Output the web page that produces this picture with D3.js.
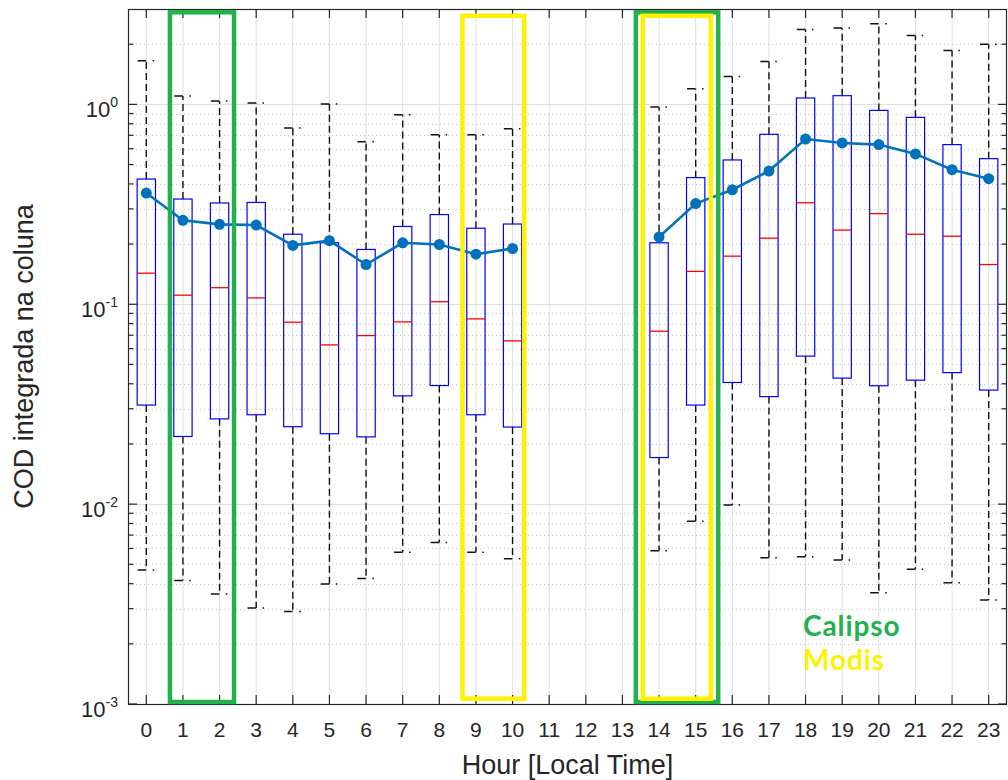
<!DOCTYPE html>
<html>
<head>
<meta charset="utf-8">
<script src="https://cdn.jsdelivr.net/npm/d3@7"></script>
<style>
  html, body { margin: 0; padding: 0; background: #fff; }
  svg { display: block; }
  text { font-family: "Liberation Sans", Arial, Helvetica, sans-serif; fill: #262626; }
</style>
</head>
<body>
<svg id="chart" width="1008" height="780"></svg>
<script>
// ---------------- DATA ----------------
const hours = d3.range(0, 24);
const hourLabels = hours.map(String);
// box upper quartile (q3)
const q3 = [0.423, 0.336, 0.321, 0.323, 0.224, 0.203, 0.188, 0.245, 0.281, 0.240, 0.252, null, null, null,
            0.203, 0.430, 0.527, 0.708, 1.076, 1.105, 0.933, 0.861, 0.629, 0.535];
// box lower quartile (q1)
const q1 = [0.0313, 0.0218, 0.0267, 0.0280, 0.0244, 0.0225, 0.0217, 0.0348, 0.0392, 0.0280, 0.0243, null, null, null,
            0.0171, 0.0313, 0.0406, 0.0345, 0.0550, 0.0427, 0.0391, 0.0417, 0.0455, 0.0372];
// medians
const medians = [0.143, 0.111, 0.121, 0.1076, 0.0813, 0.0626, 0.0697, 0.0816, 0.103, 0.0845, 0.0656, null, null, null,
                 0.0733, 0.146, 0.174, 0.214, 0.322, 0.235, 0.284, 0.224, 0.219, 0.158];
// upper whisker ends
const whiskerHigh = [1.654, 1.10, 1.039, 1.015, 0.762, 1.004, 0.650, 0.887, 0.705, 0.705, 0.756, null, null, null,
                     0.970, 1.198, 1.38, 1.64, 2.37, 2.41, 2.53, 2.21, 1.86, 2.00];
// lower whisker ends
const whiskerLow = [0.00468, 0.00415, 0.00355, 0.00302, 0.00290, 0.00398, 0.00425, 0.00574, 0.00643, 0.00574, 0.00533, null, null, null,
                    0.00585, 0.00822, 0.0099, 0.00539, 0.00545, 0.00525, 0.00360, 0.00472, 0.00404, 0.00331];
// means (blue line with markers)
const means = [0.360, 0.263, 0.251, 0.249, 0.197, 0.208, 0.158, 0.203, 0.199, 0.178, 0.190, null, null, null,
               0.217, 0.319, 0.374, 0.464, 0.671, 0.641, 0.629, 0.565, 0.471, 0.425];
// y-axis decades
const yMajorTicks = [1e-3, 1e-2, 1e-1, 1e0];
const yTickExponents = ["-3", "-2", "-1", "0"];
// highlighted hour ranges (in hour units)
const calipsoRanges = [[0.645, 2.395], [13.365, 15.615]];
const modisRanges = [[8.633, 10.318], [13.555, 15.413]];
const legendLabels = ["Calipso", "Modis"];
const xTitle = "Hour [Local Time]";
const yTitle = "COD integrada na coluna";

// ---------------- LAYOUT ----------------
const svg = d3.select("#chart");
const L = 128, R = 1007, T = 9, B = 704;
const x = d3.scaleLinear().domain([-0.5, 23.5]).range([L, R]);
const y = d3.scaleLog().domain([1e-3, 3]).range([B, T]);
const axisColor = "#262626";
const boxHalf = (x(1) - x(0)) * 0.25;

const rows = hours.map((h, i) => ({
  h, q1: q1[i], q3: q3[i], med: medians[i], hi: whiskerHigh[i], lo: whiskerLow[i], mean: means[i]
}));
const valid = rows.filter(d => d.q1 != null);

// minor tick values
const minorTicks = [];
for (let e = -3; e <= 0; e++) {
  for (let k = 2; k <= 9; k++) {
    const v = k * Math.pow(10, e);
    if (v < 3) minorTicks.push(v);
  }
}

// ---------------- GRID ----------------
const grid = svg.append("g");
grid.selectAll("line.vg").data(hours).join("line")
  .attr("x1", d => x(d)).attr("x2", d => x(d))
  .attr("y1", T).attr("y2", B)
  .attr("stroke", "#dfdfdf").attr("stroke-width", 1);
grid.selectAll("line.mg").data(minorTicks).join("line")
  .attr("x1", L).attr("x2", R)
  .attr("y1", d => Math.round(y(d)) + 0.5).attr("y2", d => Math.round(y(d)) + 0.5)
  .attr("stroke", "#c4c4c4").attr("stroke-width", 1).attr("stroke-dasharray", "1,3");
grid.selectAll("line.hg").data(yMajorTicks).join("line")
  .attr("x1", L).attr("x2", R)
  .attr("y1", d => Math.round(y(d)) + 0.5).attr("y2", d => Math.round(y(d)) + 0.5)
  .attr("stroke", "#dfdfdf").attr("stroke-width", 1);

// ---------------- BOXES ----------------
const boxes = svg.append("g");
// whiskers
boxes.selectAll("line.wu").data(valid).join("line")
  .attr("x1", d => x(d.h)).attr("x2", d => x(d.h))
  .attr("y1", d => y(d.q3)).attr("y2", d => y(d.hi))
  .attr("stroke", "#111").attr("stroke-width", 1.4).attr("stroke-dasharray", "7,4");
boxes.selectAll("line.wl").data(valid).join("line")
  .attr("x1", d => x(d.h)).attr("x2", d => x(d.h))
  .attr("y1", d => y(d.q1)).attr("y2", d => y(d.lo))
  .attr("stroke", "#111").attr("stroke-width", 1.4).attr("stroke-dasharray", "7,4");
// caps
["hi", "lo"].forEach(k => {
  boxes.selectAll("line.cap" + k).data(valid).join("line")
    .attr("x1", d => x(d.h) - boxHalf + 0.5).attr("x2", d => x(d.h) + boxHalf)
    .attr("y1", d => y(d[k])).attr("y2", d => y(d[k]))
    .attr("stroke", "#111").attr("stroke-width", 1.5).attr("stroke-dasharray", "8.5,6.5,1.5,10");
});
// boxes
boxes.selectAll("rect.box").data(valid).join("rect")
  .attr("x", d => x(d.h) - boxHalf).attr("width", boxHalf * 2)
  .attr("y", d => y(d.q3)).attr("height", d => y(d.q1) - y(d.q3))
  .attr("fill", "none").attr("stroke", "#0000ff").attr("stroke-width", 1.2);
// medians
boxes.selectAll("line.med").data(valid).join("line")
  .attr("x1", d => x(d.h) - boxHalf).attr("x2", d => x(d.h) + boxHalf)
  .attr("y1", d => y(d.med)).attr("y2", d => y(d.med))
  .attr("stroke", "#ff0000").attr("stroke-width", 1.3);

// ---------------- MEAN LINE ----------------
const meanLine = d3.line()
  .defined(d => d.mean != null)
  .x(d => x(d.h)).y(d => y(d.mean));
svg.append("path").datum(rows)
  .attr("d", meanLine)
  .attr("fill", "none").attr("stroke", "#0072BD").attr("stroke-width", 2.6);
svg.append("g").selectAll("circle").data(valid).join("circle")
  .attr("cx", d => x(d.h)).attr("cy", d => y(d.mean)).attr("r", 5.5)
  .attr("fill", "#0072BD");

// ---------------- AXES ----------------
const ax = svg.append("g");
ax.append("rect").attr("x", L + 0.5).attr("y", T + 0.5).attr("width", R - L - 1).attr("height", B - T)
  .attr("fill", "none").attr("stroke", axisColor).attr("stroke-width", 1.2);

// x ticks (bottom + top, inward)
ax.selectAll("line.xtb").data(hours).join("line")
  .attr("x1", d => x(d)).attr("x2", d => x(d)).attr("y1", B).attr("y2", B - 9)
  .attr("stroke", axisColor).attr("stroke-width", 1.2);
ax.selectAll("line.xtt").data(hours).join("line")
  .attr("x1", d => x(d)).attr("x2", d => x(d)).attr("y1", T).attr("y2", T + 9)
  .attr("stroke", axisColor).attr("stroke-width", 1.2);
ax.selectAll("text.xl").data(hours).join("text")
  .attr("x", d => x(d)).attr("y", 737)
  .attr("text-anchor", "middle").attr("font-size", 21)
  .text((d, i) => hourLabels[i]);

// y ticks (left + right)
[[L, 1], [R, -1]].forEach(([x0, dir]) => {
  ax.selectAll(null).data(yMajorTicks).join("line")
    .attr("x1", x0).attr("x2", x0 + dir * 9)
    .attr("y1", d => y(d)).attr("y2", d => y(d))
    .attr("stroke", axisColor).attr("stroke-width", 1.2);
  ax.selectAll(null).data(minorTicks).join("line")
    .attr("x1", x0).attr("x2", x0 + dir * 5.5)
    .attr("y1", d => y(d)).attr("y2", d => y(d))
    .attr("stroke", axisColor).attr("stroke-width", 1.2);
});
const ylab = ax.selectAll("text.yl").data(yMajorTicks).join("text")
  .attr("x", 118).attr("y", d => y(d) + 13)
  .attr("text-anchor", "end").attr("font-size", 22);
ylab.append("tspan").text("10");
ylab.append("tspan").attr("dy", -10).attr("font-size", 14).text((d, i) => yTickExponents[i]);

// axis titles
svg.append("text").attr("x", (L + R) / 2).attr("y", 774)
  .attr("text-anchor", "middle").attr("font-size", 27).text(xTitle);
svg.append("text").attr("transform", `translate(33, ${(T + B) / 2}) rotate(-90)`)
  .attr("text-anchor", "middle").attr("font-size", 27).text(yTitle);

// ---------------- HIGHLIGHTS ----------------
const green = "#22b14c", yellow = "#fff200";
const hl = svg.append("g");
hl.selectAll("rect.cal").data(calipsoRanges).join("rect")
  .attr("x", d => x(d[0])).attr("width", d => x(d[1]) - x(d[0]))
  .attr("y", T + 3.3).attr("height", (B - 2) - (T + 3.3))
  .attr("fill", "none").attr("stroke", green).attr("stroke-width", 4.5);
hl.selectAll("rect.mod").data(modisRanges).join("rect")
  .attr("x", d => x(d[0])).attr("width", d => x(d[1]) - x(d[0]))
  .attr("y", T + 6.8).attr("height", (B - 5.3) - (T + 6.8))
  .attr("fill", "none").attr("stroke", yellow).attr("stroke-width", 4.5);

// legend-like annotation text
const legColors = [green, yellow];
svg.append("g").selectAll("text").data(legendLabels).join("text")
  .attr("x", 803).attr("y", (d, i) => 636 + i * 34)
  .style("font-family", "Lato, 'Open Sans', sans-serif").attr("font-weight", "bold")
  .attr("font-size", 28).attr("letter-spacing", 0.9)
  .style("fill", (d, i) => legColors[i])
  .text(d => d);
</script>
</body>
</html>
